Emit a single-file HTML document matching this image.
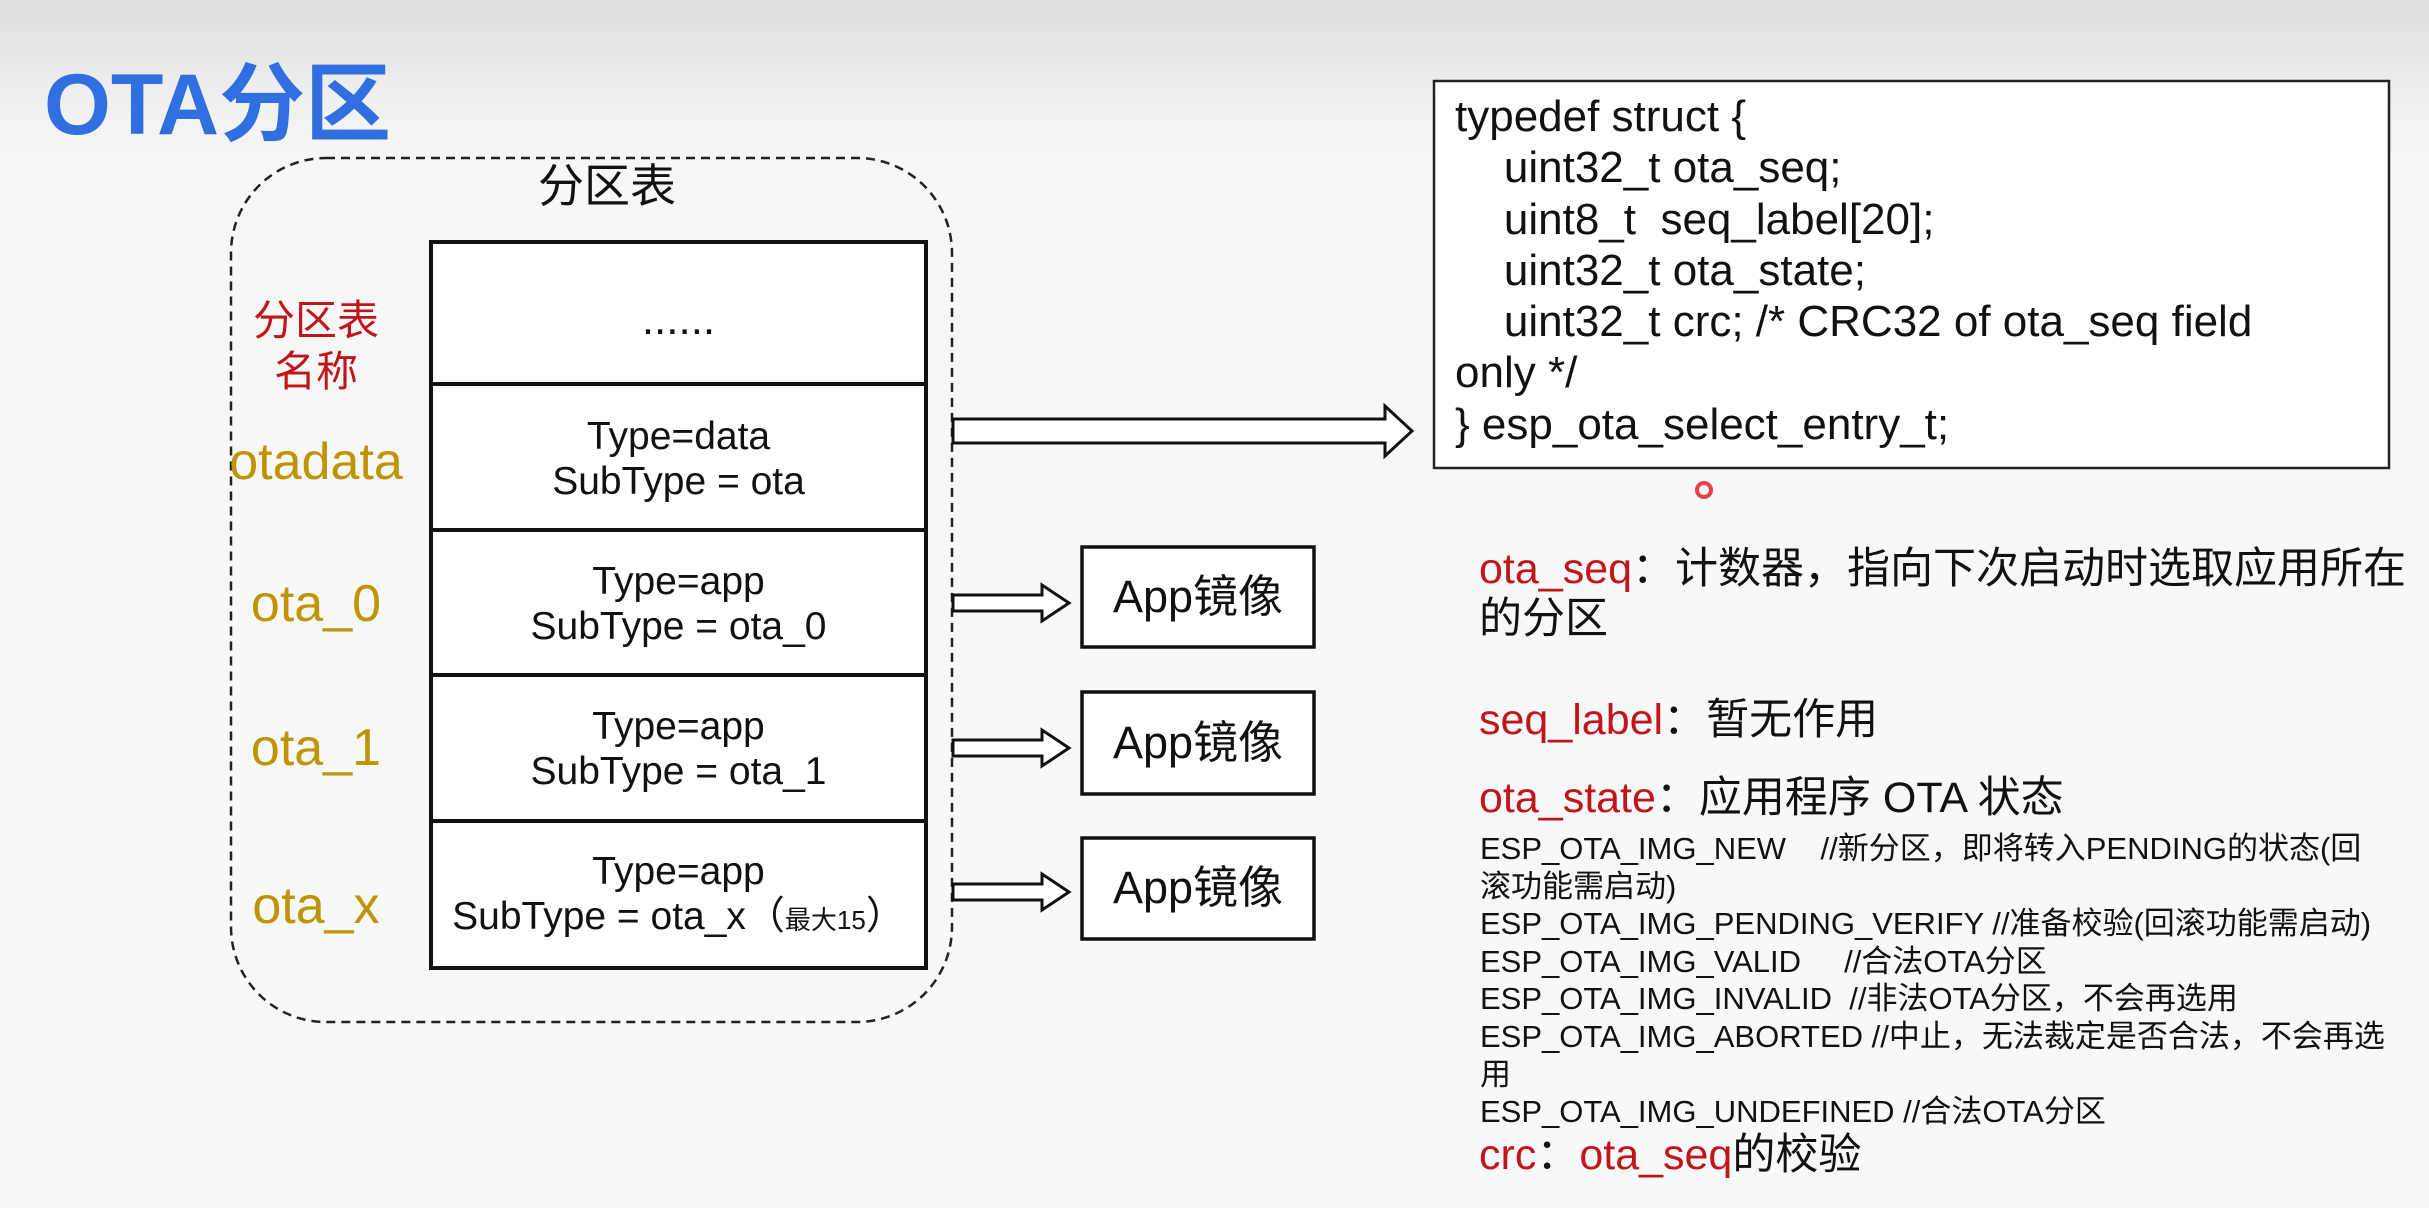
<!DOCTYPE html>
<html><head><meta charset="utf-8"><style>
html,body{margin:0;padding:0}
body{width:2429px;height:1208px;position:relative;overflow:hidden;background:linear-gradient(#dcdcdc 0px,#eeeeee 90px,#f7f7f8 160px,#f7f8f9 100%);font-family:"Liberation Sans","Noto Sans CJK SC",sans-serif}
.t{position:absolute;white-space:nowrap;line-height:1}
.c{text-align:center}
.red{color:#c0161b}
.gold{color:#bf9400}
</style></head><body>
<div class="t" style="left:44px;top:62px;font-size:86px;font-weight:bold;color:#2f6fe0">OTA分区</div>

<svg style="position:absolute;left:0;top:0" width="2429" height="1208">
<rect x="231" y="158" width="721" height="864" rx="95" ry="95" fill="none" stroke="#222" stroke-width="2.5" stroke-dasharray="9 6"/>
<rect x="431" y="242" width="495" height="726" fill="#fff" stroke="#111" stroke-width="4"/>
<line x1="431" y1="384" x2="926" y2="384" stroke="#111" stroke-width="4"/>
<line x1="431" y1="530" x2="926" y2="530" stroke="#111" stroke-width="4"/>
<line x1="431" y1="675" x2="926" y2="675" stroke="#111" stroke-width="4"/>
<line x1="431" y1="821" x2="926" y2="821" stroke="#111" stroke-width="4"/>
<polygon points="953,419 1385,419 1385,406 1412,431 1385,456 1385,443 953,443" fill="#fff" stroke="#111" stroke-width="3"/>
<g fill="#fff" stroke="#111" stroke-width="3">
<polygon points="953,595 1042,595 1042,585 1069,603 1042,621 1042,611 953,611"/>
<polygon points="953,740 1042,740 1042,730 1069,748 1042,766 1042,756 953,756"/>
<polygon points="953,884 1042,884 1042,874 1069,892 1042,910 1042,900 953,900"/>
</g>
<g fill="#fff" stroke="#111" stroke-width="3.5">
<rect x="1082" y="547" width="232" height="100"/>
<rect x="1082" y="692" width="232" height="102"/>
<rect x="1082" y="838" width="232" height="101"/>
</g>
<rect x="1434" y="81" width="955" height="387" fill="#fff" stroke="#222" stroke-width="2.5"/>
<circle cx="1704" cy="490" r="7" fill="none" stroke="#e84050" stroke-width="4"/>
</svg>

<div class="t" style="left:507px;top:163px;width:200px;text-align:center;font-size:46px;color:#111">分区表</div>
<div class="t red c" style="left:216px;top:300px;width:200px;font-size:42px">分区表</div>
<div class="t red c" style="left:216px;top:351px;width:200px;font-size:42px">名称</div>
<div class="t gold c" style="left:196px;top:436px;width:240px;font-size:52px">otadata</div>
<div class="t gold c" style="left:196px;top:578px;width:240px;font-size:52px">ota_0</div>
<div class="t gold c" style="left:196px;top:722px;width:240px;font-size:52px">ota_1</div>
<div class="t gold c" style="left:196px;top:880px;width:240px;font-size:52px">ota_x</div>

<div class="t c" style="left:431px;top:298px;width:495px;font-size:44px;color:#111">......</div>
<div class="t c" style="left:431px;top:417px;width:495px;font-size:39px;color:#111">Type=data</div>
<div class="t c" style="left:431px;top:462px;width:495px;font-size:39px;color:#111">SubType = ota</div>
<div class="t c" style="left:431px;top:562px;width:495px;font-size:39px;color:#111">Type=app</div>
<div class="t c" style="left:431px;top:607px;width:495px;font-size:39px;color:#111">SubType = ota_0</div>
<div class="t c" style="left:431px;top:707px;width:495px;font-size:39px;color:#111">Type=app</div>
<div class="t c" style="left:431px;top:752px;width:495px;font-size:39px;color:#111">SubType = ota_1</div>
<div class="t c" style="left:431px;top:852px;width:495px;font-size:39px;color:#111">Type=app</div>
<div class="t c" style="left:431px;top:897px;width:495px;font-size:39px;color:#111">SubType = ota_x（<span style="font-size:26px">最大15</span>）</div>

<div class="t c" style="left:1082px;top:574px;width:232px;font-size:45px;color:#111">App镜像</div>
<div class="t c" style="left:1082px;top:720px;width:232px;font-size:45px;color:#111">App镜像</div>
<div class="t c" style="left:1082px;top:865px;width:232px;font-size:45px;color:#111">App镜像</div>

<div style="position:absolute;left:1455px;top:91px;font-size:44px;line-height:51.3px;color:#111;white-space:pre">typedef struct {
    uint32_t ota_seq;
    uint8_t  seq_label[20];
    uint32_t ota_state;
    uint32_t crc; /* CRC32 of ota_seq field
only */
} esp_ota_select_entry_t;</div>

<div class="t" style="left:1479px;top:548px;font-size:43px;color:#111"><span class="red">ota_seq</span>：计数器，指向下次启动时选取应用所在</div>
<div class="t" style="left:1479px;top:598px;font-size:43px;color:#111">的分区</div>
<div class="t" style="left:1479px;top:699px;font-size:43px;color:#111"><span class="red">seq_label</span>：暂无作用</div>
<div class="t" style="left:1479px;top:777px;font-size:43px;color:#111"><span class="red">ota_state</span>：应用程序 OTA 状态</div>
<div style="position:absolute;left:1480px;top:830px;font-size:31px;line-height:37.6px;color:#111;white-space:pre">ESP_OTA_IMG_NEW    //新分区，即将转入PENDING的状态(回
滚功能需启动)
ESP_OTA_IMG_PENDING_VERIFY //准备校验(回滚功能需启动)
ESP_OTA_IMG_VALID     //合法OTA分区
ESP_OTA_IMG_INVALID  //非法OTA分区，不会再选用
ESP_OTA_IMG_ABORTED //中止，无法裁定是否合法，不会再选
用
ESP_OTA_IMG_UNDEFINED //合法OTA分区</div>
<div class="t" style="left:1479px;top:1134px;font-size:43px;color:#111"><span class="red">crc</span>：<span class="red">ota_seq</span>的校验</div>
</body></html>
